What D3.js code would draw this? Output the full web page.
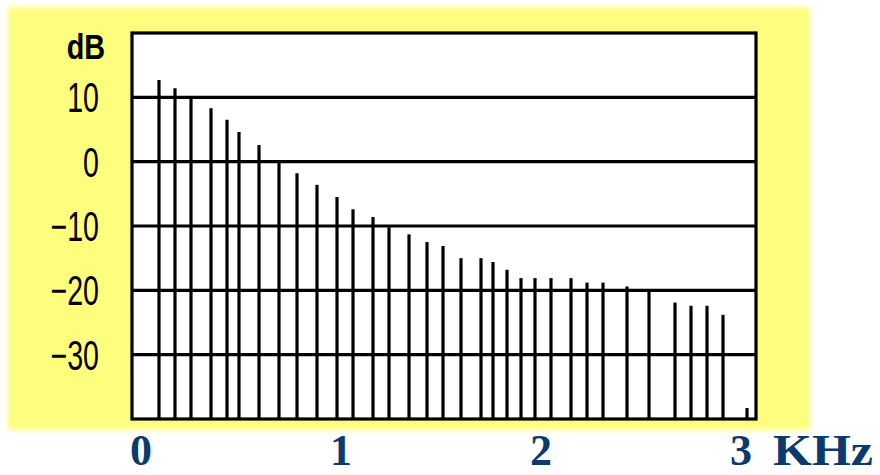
<!DOCTYPE html>
<html>
<head>
<meta charset="utf-8">
<script src="https://cdn.jsdelivr.net/npm/d3@7/dist/d3.min.js"></script>
<style>
  html, body { margin: 0; padding: 0; background: #ffffff; }
  svg { display: block; }
</style>
</head>
<body>
<svg id="chart" width="880" height="475"></svg>
<script>
// ---- data (frequency in kHz, level in dB) ----
const freqs = [0.09, 0.17, 0.25, 0.35, 0.43, 0.49, 0.59, 0.69, 0.78, 0.88,
               0.98, 1.06, 1.16, 1.24, 1.34, 1.43, 1.51, 1.60, 1.70, 1.76,
               1.83, 1.90, 1.97, 2.05, 2.15, 2.23, 2.31, 2.43, 2.54, 2.67,
               2.75, 2.83, 2.91, 3.03];
const levels = [12.7, 11.4, 10.2, 8.3, 6.5, 4.6, 2.6, 0, -1.8, -3.6,
                -5.5, -7.4, -8.6, -10.2, -11.3, -12.5, -13.1, -15.0, -15.0, -15.6,
                -16.8, -18.1, -18.1, -18.1, -18.1, -18.8, -18.8, -19.4, -20.2, -21.9,
                -22.4, -22.4, -23.8, -38.3];
const yTicks = [10, 0, -10, -20, -30];
const xTicks = [0, 1, 2, 3];
const yUnit = "dB";
const xUnit = "KHz";
const xDomain = [-0.045, 3.075];
const yDomain = [-40, 20];

// ---- layout ----
const svg = d3.select("#chart");
const x = d3.scaleLinear().domain(xDomain).range([132, 756]);
const y = d3.scaleLinear().domain(yDomain).range([419, 33]);

const defs = svg.append("defs");
defs.append("filter").attr("id", "soft")
  .attr("x", "-5%").attr("y", "-5%").attr("width", "110%").attr("height", "110%")
  .append("feGaussianBlur").attr("stdDeviation", 2.5);

// yellow panel
svg.append("rect")
  .attr("x", 8).attr("y", 7).attr("width", 802).attr("height", 423)
  .attr("fill", "#fdfd7e").attr("filter", "url(#soft)");

// plot area
const [x0, x1] = x.range();
const [yb, yt] = y.range();
svg.append("rect")
  .attr("x", x0).attr("y", yt).attr("width", x1 - x0).attr("height", yb - yt)
  .attr("fill", "#ffffff");

// gridlines
svg.append("g").selectAll("line").data(yTicks).join("line")
  .attr("x1", x0).attr("x2", x1)
  .attr("y1", d => y(d)).attr("y2", d => y(d))
  .attr("stroke", "#000").attr("stroke-width", 3.2);

// spectral lines
const data = freqs.map((f, i) => ({ f, v: levels[i] }));
svg.append("g").selectAll("line").data(data).join("line")
  .attr("x1", d => x(d.f)).attr("x2", d => x(d.f))
  .attr("y1", y(yDomain[0])).attr("y2", d => y(d.v))
  .attr("stroke", "#000").attr("stroke-width", 3.2);

// frame
svg.append("rect")
  .attr("x", x0).attr("y", yt).attr("width", x1 - x0).attr("height", yb - yt)
  .attr("fill", "none").attr("stroke", "#000").attr("stroke-width", 3.2);

// y tick labels
svg.append("g").selectAll("text").data(yTicks).join("text")
  .attr("transform", d => `translate(99,${y(d) + 15}) scale(0.68,1)`)
  .attr("text-anchor", "end")
  .attr("font-family", "Liberation Sans, Arial, sans-serif")
  .attr("font-size", 42)
  .attr("fill", "#000")
  .text(d => d < 0 ? "\u2212" + Math.abs(d) : String(d));

// y unit
svg.append("text")
  .attr("transform", `translate(105,59) scale(0.8,1)`)
  .attr("text-anchor", "end")
  .attr("font-family", "Liberation Sans, Arial, sans-serif")
  .attr("font-weight", "bold")
  .attr("font-size", 36)
  .attr("fill", "#000")
  .text(yUnit);

// x tick labels
svg.append("g").selectAll("text").data(xTicks).join("text")
  .attr("x", d => x(d)).attr("y", 465)
  .attr("text-anchor", "middle")
  .attr("font-family", "Liberation Serif, 'Times New Roman', serif")
  .attr("font-weight", "bold")
  .attr("font-size", 44)
  .attr("fill", "#0b3a6e")
  .text(d => String(d));

// x unit
svg.append("text")
  .attr("x", x(xTicks[xTicks.length - 1]) + 32).attr("y", 465)
  .attr("font-family", "Liberation Serif, 'Times New Roman', serif")
  .attr("font-weight", "bold")
  .attr("font-size", 44)
  .attr("textLength", 100).attr("lengthAdjust", "spacingAndGlyphs")
  .attr("fill", "#0b3a6e")
  .text(xUnit);
</script>
</body>
</html>
